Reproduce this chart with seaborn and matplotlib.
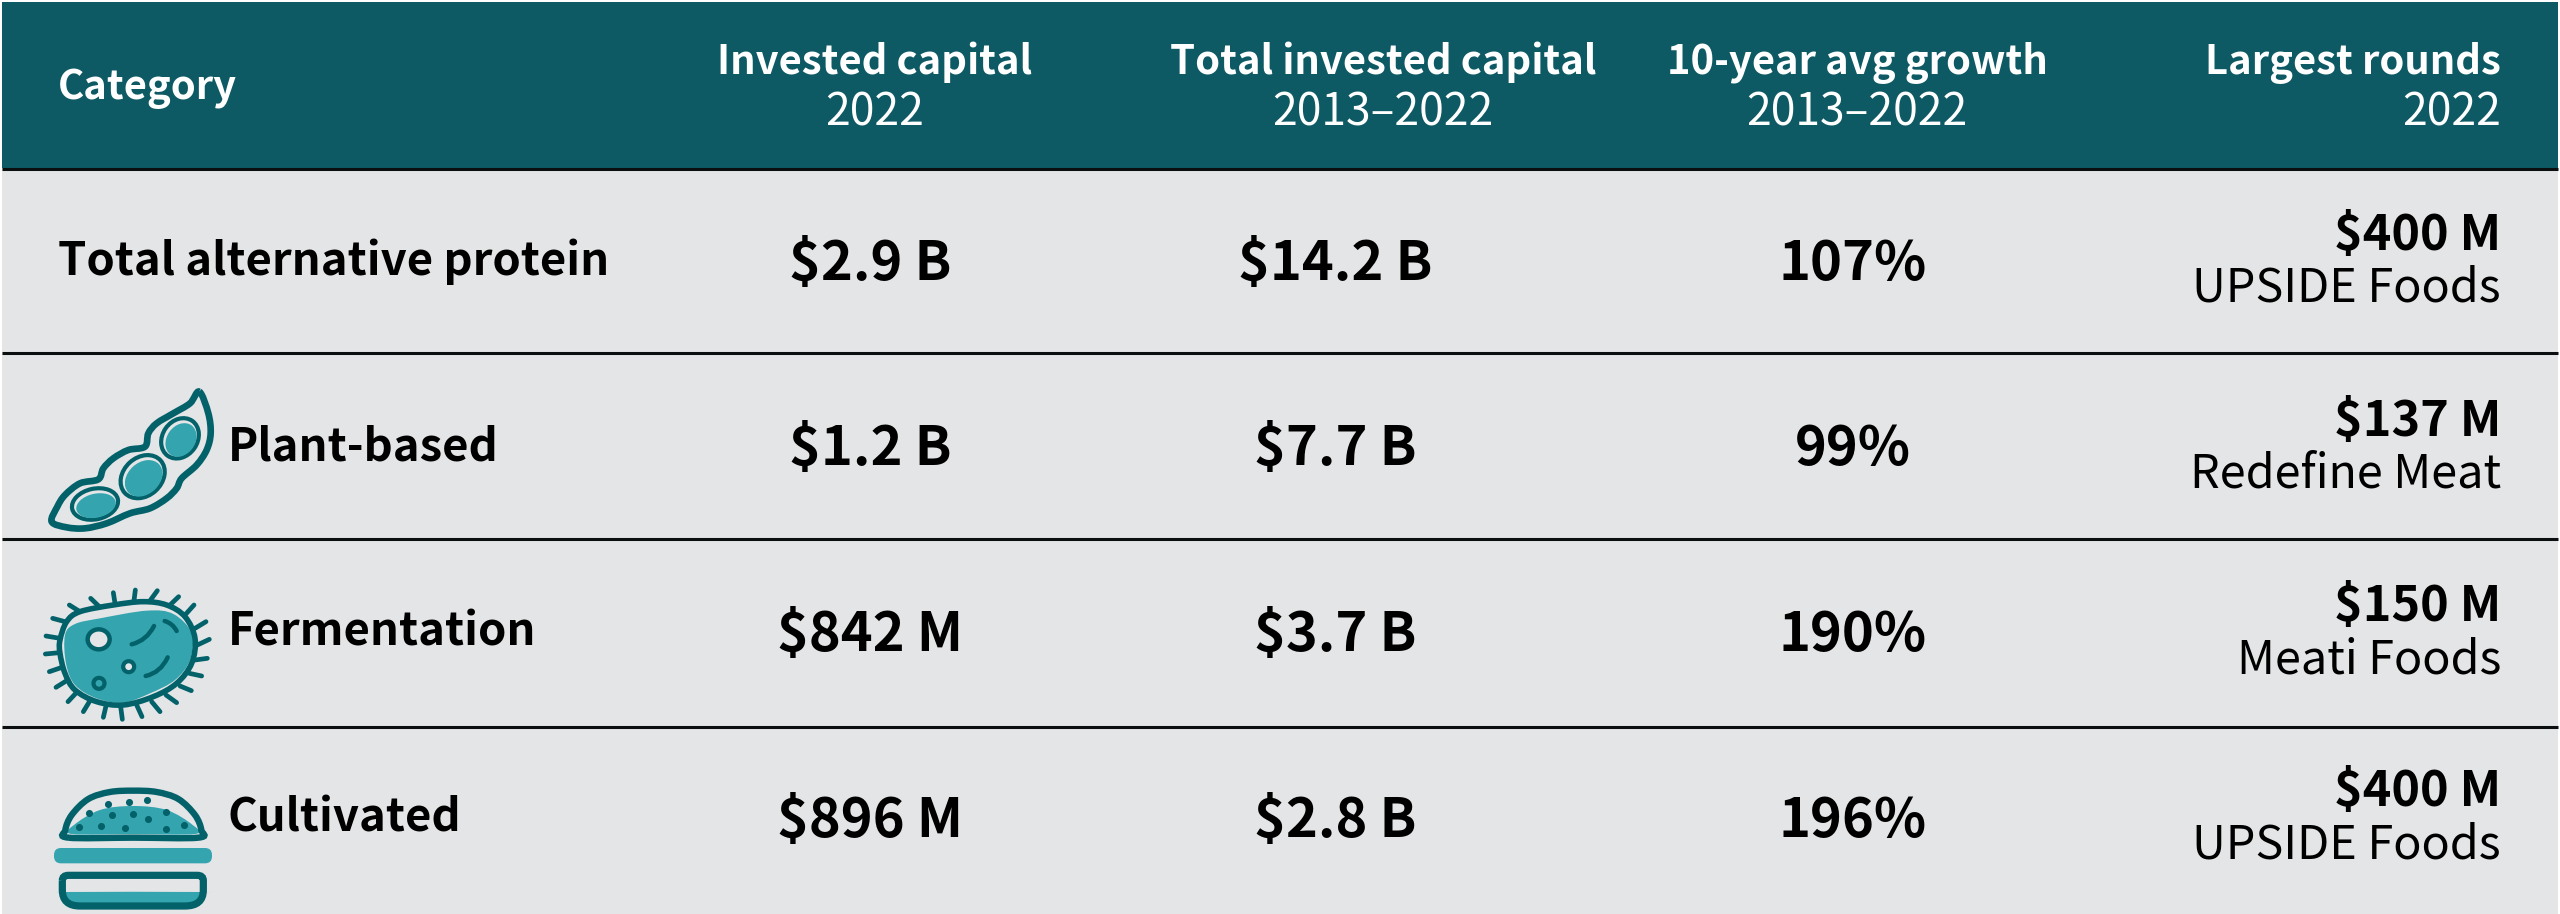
"""Alternative protein investment table, drawn on seaborn heatmaps."""

import numpy as np
import matplotlib
matplotlib.use("Agg")
import matplotlib.pyplot as plt
import seaborn as sns
from matplotlib.colors import ListedColormap
from matplotlib.patches import Circle, Ellipse, FancyBboxPatch, PathPatch
from matplotlib.path import Path

# Table content
categories = ["Total alternative protein", "Plant-based", "Fermentation", "Cultivated"]
invested_2022 = ["$2.9 B", "$1.2 B", "$842 M", "$896 M"]
invested_total = ["$14.2 B", "$7.7 B", "$3.7 B", "$2.8 B"]
avg_growth = ["107%", "99%", "190%", "196%"]
largest_amount = ["$400 M", "$137 M", "$150 M", "$400 M"]
largest_company = ["UPSIDE Foods", "Redefine Meat", "Meati Foods", "UPSIDE Foods"]
header_top = ["Invested capital", "Total invested capital", "10-year avg growth", "Largest rounds"]
header_sub = ["2022", "2013–2022", "2013–2022", "2022"]

# Colours
HEADER = "#0E5A64"
BODY = "#E4E5E7"
DARK = "#03616A"
TEAL = "#34A4AF"
W, H = 2560, 914
FONT = "Noto Sans CJK JP"

sns.set_theme(style="white")
plt.rcParams["font.family"] = [FONT, "DejaVu Sans"]

fig = plt.figure(figsize=(W / 100, H / 100), dpi=100, facecolor="white")


def px_axes(x0, y0, x1, y1):
    return fig.add_axes([x0 / W, 1 - y1 / H, (x1 - x0) / W, (y1 - y0) / H])


# Header band and body rows are heatmaps with one flat colour each
ax_head = px_axes(2, 2, 2558, 168)
sns.heatmap(np.zeros((1, 5)), ax=ax_head, cmap=ListedColormap([HEADER]), cbar=False,
            xticklabels=False, yticklabels=False)
ax_body = px_axes(2, 168, 2558, H)
sns.heatmap(np.zeros((4, 5)), ax=ax_body, cmap=ListedColormap([BODY]), cbar=False,
            xticklabels=False, yticklabels=False)

# Overlay in pixel coordinates for rules, labels and icons
ax = fig.add_axes([0, 0, 1, 1], facecolor="none")
ax.set_xlim(0, W)
ax.set_ylim(H, 0)
ax.axis("off")

rule_y = [169, 353, 539, 727]
for y in rule_y:
    ax.plot([2, 2558], [y, y], color="#0B0F10", lw=2.2, solid_capstyle="butt")

# Header columns are not centred quite where the value columns are
head_x = [875, 1383, 1857]
col_x = [870, 1335, 1853]
RIGHT = 2501

# Header text
ax.text(58, 99, "Category", color="white", fontsize=28.8, fontweight="bold")
for x, top, sub in zip(head_x, header_top, header_sub):
    ax.text(x, 74, top, color="white", fontsize=28.8, fontweight="bold", ha="center")
    ax.text(x, 125, sub, color="white", fontsize=32, ha="center")
ax.text(RIGHT, 74, header_top[3], color="white", fontsize=28.8, fontweight="bold", ha="right")
ax.text(RIGHT, 125, header_sub[3], color="white", fontsize=32, ha="right")

# Body text
label_x = [58, 228, 228, 228]
for i in range(4):
    base = 275 + i * 185.5
    ax.text(label_x[i], base, categories[i], color="black", fontsize=32.7, fontweight="bold")
    ax.text(col_x[0], base + 5, invested_2022[i], color="black", fontsize=39, fontweight="bold", ha="center")
    ax.text(col_x[1], base + 5, invested_total[i], color="black", fontsize=39, fontweight="bold", ha="center")
    ax.text(col_x[2], base + 5, avg_growth[i], color="black", fontsize=39, fontweight="bold", ha="center")
    ax.text(RIGHT, base - 25, largest_amount[i], color="black", fontsize=35, fontweight="bold", ha="right")
    ax.text(RIGHT, base + 27, largest_company[i], color="black", fontsize=33.7, ha="right")


def smooth_closed(points):
    """Closed Catmull-Rom outline through the points, as a bezier path."""
    pts = np.asarray(points, float)
    n = len(pts)
    verts = [pts[0]]
    codes = [Path.MOVETO]
    for i in range(n):
        p0, p1, p2, p3 = pts[i - 1], pts[i], pts[(i + 1) % n], pts[(i + 2) % n]
        verts += [p1 + (p2 - p0) / 6, p2 - (p3 - p1) / 6, p2]
        codes += [Path.CURVE4] * 3
    return Path(verts, codes)


def zoomed(points, y0):
    return [(x / 3, y0 + y / 3) for x, y in points]


# Pod icon
POD_Y = 350
pod = [(598, 125), (570, 160), (520, 190), (470, 220), (445, 250), (435, 290), (385, 300), (340, 325), (310, 355),
       (295, 388), (240, 400), (195, 435), (172, 470), (155, 515), (200, 532), (255, 535), (320, 520), (390, 490),
       (450, 475), (500, 445), (530, 415), (545, 385), (590, 345), (620, 300), (632, 250), (625, 190)]
ax.add_patch(PathPatch(smooth_closed(zoomed(pod, POD_Y)), fc="none", ec=DARK, lw=4.8, joinstyle="round"))
for (cx, cy), w, h, ang in [((540, 265), 128, 105, -55), ((428, 380), 145, 115, -42), ((285, 462), 140, 92, -12)]:
    ax.add_patch(Ellipse((cx / 3, POD_Y + cy / 3), w / 3, h / 3, angle=ang, fc=BODY, ec=DARK, lw=3))
    ax.add_patch(Ellipse(((cx + 3) / 3, POD_Y + (cy + 5) / 3), (w - 20) / 3, (h - 20) / 3, angle=ang, fc=TEAL, ec="none"))

# Microbe icon
MIC_Y = 550
outline = [(180, 270), (200, 215), (240, 185), (340, 165), (430, 155), (500, 165), (555, 200), (585, 265),
           (575, 340), (530, 400), (460, 440), (370, 465), (290, 455), (225, 420), (195, 370), (180, 310)]
inner = [(195, 255), (225, 222), (300, 205), (440, 182), (520, 192), (575, 250), (570, 330), (525, 390),
         (450, 430), (370, 458), (290, 445), (225, 405), (198, 340)]
ax.add_patch(PathPatch(smooth_closed(zoomed(inner, MIC_Y)), fc=TEAL, ec="none"))
ax.add_patch(PathPatch(smooth_closed(zoomed(outline, MIC_Y)), fc="none", ec=DARK, lw=4))
spines = [((195, 215), (158, 205)), ((240, 185), (208, 165)), ((298, 170), (272, 145)), ((345, 160), (340, 128)),
          ((402, 152), (406, 120)), ((450, 152), (472, 122)), ((510, 165), (536, 140)), ((555, 195), (582, 165)),
          ((585, 235), (618, 215)), ((592, 285), (628, 268)), ((585, 330), (622, 325)), ((568, 370), (605, 378)),
          ((540, 408), (574, 422)), ((498, 435), (530, 458)), ((455, 455), (480, 485)), ((410, 465), (426, 500)),
          ((362, 470), (367, 508)), ((318, 468), (310, 502)), ((270, 452), (250, 485)), ((232, 425), (204, 455)),
          ((200, 392), (168, 412)), ((186, 352), (148, 365)), ((178, 308), (136, 312)), ((180, 265), (138, 258))]
for a, b in spines:
    (x0, y0), (x1, y1) = zoomed([a, b], MIC_Y)
    ax.plot([x0, x1], [y0, y1], color=DARK, lw=3.4, solid_capstyle="round")
ax.add_patch(Ellipse((296 / 3, MIC_Y + 268 / 3), 22, 20, fc=BODY, ec=DARK, lw=3.2))
ax.add_patch(Circle((386 / 3, MIC_Y + 350 / 3), 5.5, fc=BODY, ec=DARK, lw=3))
ax.add_patch(Circle((297 / 3, MIC_Y + 400 / 3), 5.5, fc=TEAL, ec=DARK, lw=3))
for arc in [[(395, 283), (440, 272), (462, 228)], [(437, 378), (482, 368), (503, 322)], [(494, 213), (518, 220), (530, 243)]]:
    path = Path(zoomed(arc, MIC_Y), [Path.MOVETO, Path.CURVE3, Path.CURVE3])
    ax.add_patch(PathPatch(path, fc="none", ec=DARK, lw=3.2, capstyle="round"))

# Burger icon
BUR_Y = 730
crumb = [(215, 312), (222, 285), (300, 240), (400, 228), (500, 240), (578, 285), (585, 312), (400, 312)]
ax.add_patch(PathPatch(smooth_closed(zoomed(crumb, BUR_Y)), fc=TEAL, ec="none"))
dome = [(205, 323), (196, 300), (215, 255), (265, 207), (330, 186), (400, 182), (470, 186), (535, 207),
        (585, 255), (604, 300), (595, 323), (400, 323)]
ax.add_patch(PathPatch(smooth_closed(zoomed(dome, BUR_Y)), fc="none", ec=DARK, lw=4.6))
seeds_x = [236, 266, 303, 325, 337, 375, 386, 399, 441, 445, 498, 499, 551]
seeds_y = [292, 248, 287, 221, 256, 295, 215, 252, 211, 266, 245, 297, 285]
ax.scatter([x / 3 for x in seeds_x], [BUR_Y + y / 3 for y in seeds_y], s=26, color=DARK, lw=0, zorder=3)
ax.add_patch(FancyBboxPatch((162 / 3 + 7, BUR_Y + 354 / 3 + 7), 474 / 3 - 14, 46 / 3 - 14,
                            boxstyle="round,pad=7", fc=TEAL, ec="none"))
# bottom bun, squarer on top than underneath
bun_verts = [(187, 452), (187, 436), (205, 436), (592, 436), (610, 436), (610, 452), (610, 480), (610, 528), (555, 528),
             (240, 528), (187, 528), (187, 480), (187, 452)]
bun_codes = [Path.MOVETO, Path.CURVE3, Path.CURVE3, Path.LINETO, Path.CURVE3, Path.CURVE3, Path.LINETO,
             Path.CURVE3, Path.CURVE3, Path.LINETO, Path.CURVE3, Path.CURVE3, Path.LINETO]
bun_fill = [(198, 486), (600, 486), (600, 490), (590, 520), (550, 522), (245, 522), (205, 520), (198, 490)]
ax.add_patch(PathPatch(smooth_closed(zoomed(bun_fill, BUR_Y)), fc=TEAL, ec="none"))
ax.add_patch(PathPatch(Path(zoomed(bun_verts, BUR_Y), bun_codes), fc="none", ec=DARK, lw=5.2))

fig.savefig("out.png", dpi=100, facecolor="white")
